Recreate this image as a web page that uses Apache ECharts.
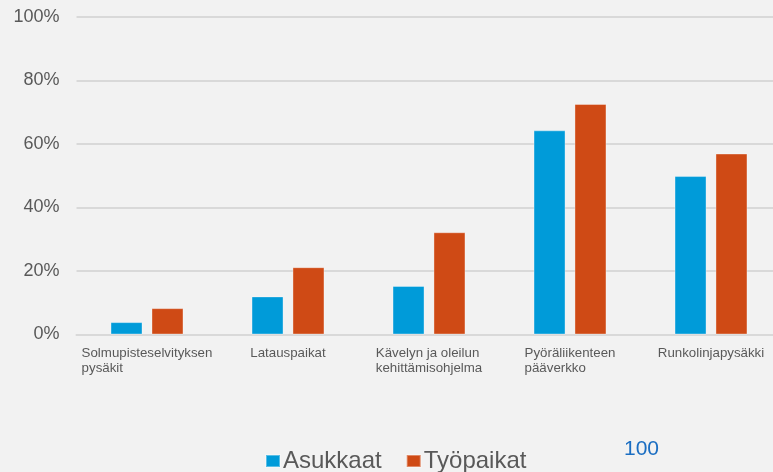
<!DOCTYPE html>
<html>
<head>
<meta charset="utf-8">
<script src="https://cdn.jsdelivr.net/npm/echarts@6/dist/echarts.min.js"></script>
<style>
  html, body { margin: 0; padding: 0; background: #f2f2f2; }
  #chart { width: 773px; height: 472px; }
</style>
</head>
<body>
<div id="chart"></div>
<script>
// Category labels (line breaks as they wrap under the axis)
const categories = [
  'Solmupisteselvityksen\npysäkit',
  'Latauspaikat',
  'Kävelyn ja oleilun\nkehittämisohjelma',
  'Pyöräliikenteen\npääverkko',
  'Runkolinjapysäkki'
];
// Share (%) per series
const asukkaat = [3.9, 12.0, 15.3, 64.3, 49.9];
const tyopaikat = [8.3, 21.2, 32.2, 72.6, 57.0];
const seriesNames = ['Asukkaat', 'Työpaikat'];
const pageNumber = '100';

const FONT = "'Liberation Sans', Arial, sans-serif";
const chart = echarts.init(document.getElementById('chart'), null, { renderer: 'canvas' });

chart.setOption({
  backgroundColor: '#f2f2f2',
  animation: false,
  textStyle: { fontFamily: FONT },
  grid: { left: 76.5, top: 17, width: 705, height: 317.5, containLabel: false, outerBoundsMode: 'none' },
  legend: {
    data: seriesNames,
    left: 265,
    top: 449,
    padding: 0,
    itemWidth: 14,
    itemHeight: 12,
    itemGap: 24,
    icon: 'rect',
    textStyle: { fontFamily: FONT, fontSize: 24, color: '#595959', padding: [0, 0, 0, -2] }
  },
  xAxis: {
    type: 'category',
    data: categories,
    axisLine: { lineStyle: { color: '#d9d9d9', width: 2 } },
    axisTick: { show: false },
    axisLabel: {
      interval: 0,
      margin: 10.5,
      color: '#595959',
      fontFamily: FONT,
      fontSize: 13.3,
      lineHeight: 15.7,
      formatter: function (v) {
        return v.split('\n').map(function (s) { return '{a|' + s + '}'; }).join('\n');
      },
      rich: {
        a: { align: 'left', fontFamily: FONT, fontSize: 13.3, lineHeight: 15.7, color: '#595959' }
      }
    }
  },
  yAxis: {
    type: 'value',
    min: 0,
    max: 100,
    interval: 20,
    axisLine: { show: false },
    axisTick: { show: false },
    splitLine: { lineStyle: { color: '#d9d9d9', width: 2 } },
    axisLabel: {
      margin: 17,
      color: '#595959',
      fontFamily: FONT,
      fontSize: 18,
      formatter: '{value}%'
    }
  },
  series: [
    {
      name: seriesNames[0],
      type: 'bar',
      data: asukkaat,
      barWidth: 32,
      barGap: '28%',
      itemStyle: { color: '#009bd9', borderColor: 'rgba(255,255,255,0.35)', borderWidth: 1 }
    },
    {
      name: seriesNames[1],
      type: 'bar',
      data: tyopaikat,
      barWidth: 32,
      barGap: '28%',
      itemStyle: { color: '#cf4a15', borderColor: 'rgba(255,255,255,0.35)', borderWidth: 1 }
    }
  ],
  graphic: [
    {
      type: 'text',
      left: 624,
      top: 439,
      style: { text: pageNumber, fontFamily: FONT, fontSize: 21, fill: '#1b6ec2' }
    }
  ]
});
</script>
</body>
</html>
